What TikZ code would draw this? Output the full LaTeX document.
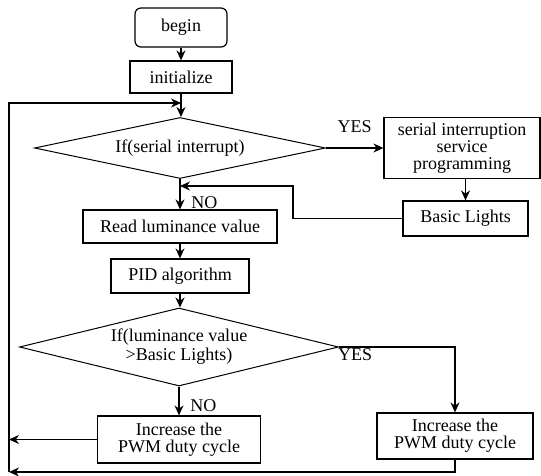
\documentclass[tikz,border=0pt]{standalone}
\usepackage{fontspec}
\setmainfont{Liberation Serif}
\usetikzlibrary{arrows.meta, shapes.geometric, calc}

\begin{document}
\begin{tikzpicture}[x=0.5pt, y=-0.5pt, >={Stealth[length=5pt,width=4.5pt]},
    box/.style={draw, line width=0.6pt, align=center, inner sep=1pt, font=\fontsize{9}{8.6}\selectfont},
    decision/.style={draw, diamond, shape aspect=4, inner sep=0pt, align=center, line width=0.5pt, font=\fontsize{9}{9.6}\selectfont},
    flow/.style={->, line width=0.6pt},
    tag/.style={font=\fontsize{9}{10}\selectfont}]
    \useasboundingbox (0,0) rectangle (541,476);

    % Start and setup
    \node[box, rounded corners=3pt, minimum width=46pt, minimum height=19.5pt] (begin) at (181,27.5) {begin};
    \node[box, minimum width=51pt, minimum height=16pt] (init) at (181,77) {initialize};

    % Serial interrupt check
    \node[decision, minimum width=145.5pt, minimum height=30.5pt] (ifser) at (180,148) {If(serial interrupt)};
    \node[box, minimum width=78pt, minimum height=30.5pt] (serial) at (462,148) {serial interruption\\service\\programming};
    \node[box, minimum width=62.5pt, minimum height=17.5pt] (basic) at (465.5,218.5) {Basic Lights};

    % Main chain
    \node[box, minimum width=97pt, minimum height=16.5pt] (read) at (180,226.5) {Read luminance value};
    \node[box, minimum width=69pt, minimum height=17pt] (pid) at (180,276) {PID algorithm};

    % Luminance check
    \node[decision, minimum width=159.5pt, minimum height=39pt] (iflum) at (179,347) {If(luminance value\\>Basic Lights)};
    \node[box, minimum width=81.5pt, minimum height=23.5pt] (pwmL) at (179,439.5) {Increase the\\PWM duty cycle};
    \node[box, minimum width=78pt, minimum height=23pt] (pwmR) at (455,436) {Increase the\\PWM duty cycle};

    % Loop corners
    \coordinate (lpTop) at (9,103);
    \coordinate (lpBot) at (9,472);
    \coordinate (ret) at (293,186);

    % Connectors
    \draw[flow] (begin) -- (init);
    \draw[flow] (init.south) -- (init.south |- ifser.north);
    \draw[flow] (lpBot) -- (lpTop) -- (lpTop -| init.south);
    \draw[flow] (ifser.east) -- (serial.west) node[tag, midway, above=4pt] {YES};
    \draw[flow] (serial.south -| basic.north) -- (basic.north);
    \draw[flow] (basic.west) -| (ret) -- (ret -| ifser.south);
    \draw[flow] (ifser.south) -- (read.north) node[tag, pos=0.78, right=2pt] {NO};
    \draw[flow] (read) -- (pid);
    \draw[flow] (pid.south) -- (pid.south |- iflum.north);
    \draw[flow] (iflum.south) -- (pwmL.north) node[tag, pos=0.67, right=2pt] {NO};
    \draw[flow] (iflum.east) -| (pwmR.north) node[tag, pos=0.07, below, inner sep=0.5pt] {YES};
    \draw[flow] (pwmL.west) -- (pwmL.west -| lpTop);
    \draw[flow] (pwmR.south) |- (lpBot);
\end{tikzpicture}
\end{document}
